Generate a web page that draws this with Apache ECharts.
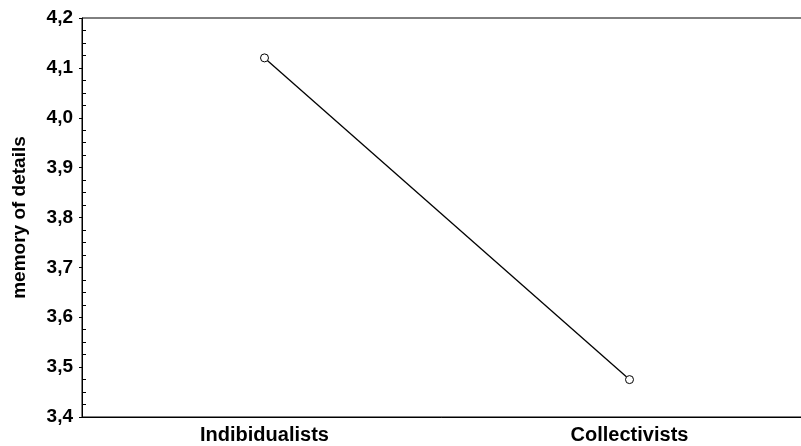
<!DOCTYPE html>
<html>
<head>
<meta charset="utf-8">
<script src="https://cdn.jsdelivr.net/npm/echarts@6/dist/echarts.min.js"></script>
<style>
  html, body { margin: 0; padding: 0; background: #fff; }
  #chart { width: 801px; height: 446px; }
</style>
</head>
<body>
<div id="chart"></div>
<script>
// groups on the x axis
const categories = ['Indibidualists', 'Collectivists'];
// mean memory of details per group
const memoryValues = [4.12, 3.475];
const yTicks = { min: 3.4, max: 4.2, step: 0.1 };

const chart = echarts.init(document.getElementById('chart'));
const font = '"Liberation Sans", Arial, sans-serif';

const option = {
    animation: false,
    grid: {
        left: 82,
        width: 730,
        top: 18,
        bottom: 29,
        containLabel: false,
        outerBoundsMode: 'none',
        show: true,
        borderColor: '#000',
        borderWidth: 1
    },
    xAxis: {
        type: 'category',
        data: categories,
        boundaryGap: true,
        axisLine: { lineStyle: { color: '#000', width: 1 } },
        axisTick: {
            alignWithLabel: true,
            inside: true,
            length: 4,
            lineStyle: { color: '#000' }
        },
        axisLabel: {
            color: '#000',
            fontFamily: font,
            fontWeight: 'bold',
            fontSize: 20,
            margin: 8
        },
        splitLine: { show: false }
    },
    yAxis: {
        type: 'value',
        min: yTicks.min,
        max: yTicks.max,
        interval: yTicks.step,
        name: 'memory of details',
        nameLocation: 'middle',
        nameGap: 53,
        nameTextStyle: {
            color: '#000',
            fontFamily: font,
            fontWeight: 'bold',
            fontSize: 19
        },
        axisLine: { show: true, lineStyle: { color: '#000', width: 1 } },
        axisTick: {
            show: true,
            length: 3,
            lineStyle: { color: '#000' }
        },
        minorTick: {
            show: true,
            splitNumber: 4,
            length: -4,
            lineStyle: { color: '#000' }
        },
        axisLabel: {
            color: '#000',
            fontFamily: font,
            fontWeight: 'bold',
            fontSize: 19,
            margin: 9,
            formatter: v => v.toFixed(1).replace('.', ',')
        },
        splitLine: { show: false }
    },
    series: [{
        type: 'line',
        data: memoryValues,
        symbol: 'circle',
        symbolSize: 8,
        itemStyle: { color: '#fff', borderColor: '#000', borderWidth: 1 },
        lineStyle: { color: '#000', width: 1.3 }
    }]
};
chart.setOption(option);
</script>
</body>
</html>
